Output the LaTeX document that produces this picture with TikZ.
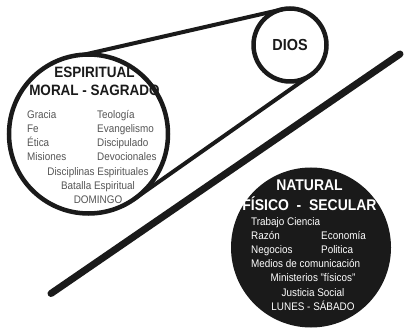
\documentclass[tikz,border=0pt]{standalone}
\usepackage{fontspec}
\setmainfont{Liberation Sans}[FakeStretch=0.9]
\usepackage{xcolor}
\usetikzlibrary{positioning}
\definecolor{tinta}{HTML}{1A1A1A}
\definecolor{gris}{HTML}{555555}

\begin{document}
\begin{tikzpicture}[
    x=1pt, y=-1pt,
    circulo/.style={circle, draw=tinta, line width=4.5pt, inner sep=0pt, outer sep=0pt},
    titulo/.style={font=\fontsize{15}{18}\selectfont\bfseries, text=tinta,
                   align=center, inner sep=0pt},
    cuerpo/.style={font=\fontsize{11}{14}\selectfont, text=gris,
                   align=center, inner sep=0pt},
    correa/.style={draw=tinta, line width=4pt},
    divisor/.style={draw=tinta, line width=7pt, line cap=round}
  ]
    \useasboundingbox (0,0) rectangle (406,328);
    \node[circulo, fill=white, minimum size=159pt] (espiritual) at (88.5,134) {};
    \node[circulo, fill=white, minimum size=73pt,
          font=\fontsize{16}{18}\selectfont\bfseries, text=tinta] (dios) at (290,45) {DIOS};
    \node[circle, fill=tinta, minimum size=160pt, inner sep=0pt] (natural) at (311,247.5) {};
    \draw[correa] (espiritual.93) -- (dios.101);
    \draw[correa] (espiritual.-55) -- (dios.-55);
    \coordinate (divInicio) at (51,293.5);
    \coordinate (divFin) at (400,54);
    \draw[divisor] (divInicio) -- (divFin);
    % espiritual
    \node[titulo] (espTitulo) at (94.5,81) {ESPIRITUAL\\MORAL - SAGRADO};
    \node[cuerpo, anchor=west] (espLista) at (27,137)
      {\begin{tabular}{@{}p{70pt}@{}l@{}}
        Gracia & Teología\\ Fe & Evangelismo\\
        Ética & Discipulado\\ Misiones & Devocionales
      \end{tabular}};
    \node[cuerpo] (espCierre) at (98,186)
      {Disciplinas Espirituales\\Batalla Espiritual\\DOMINGO};
    % natural
    \node[titulo, text=white, font=\fontsize{15.5}{20}\selectfont\bfseries] (natTitulo)
      at (309.5,195) {NATURAL\\FÍSICO\ \ -\ \ SECULAR};
    \node[cuerpo, text=white, anchor=west] (natLista) at (251,244)
      {\begin{tabular}{@{}p{70pt}@{}l@{}}
        \multicolumn{2}{@{}l@{}}{Trabajo Ciencia}\\
        Razón & Economía\\ Negocios & Politica\\
        \multicolumn{2}{@{}l@{}}{Medios de comunicación}
      \end{tabular}};
    \node[cuerpo, text=white, font=\fontsize{11}{14.5}\selectfont] (natCierre) at (313,292.5)
      {Ministerios "físicos"\\Justicia Social\\LUNES - SÁBADO};
\end{tikzpicture}
\end{document}
